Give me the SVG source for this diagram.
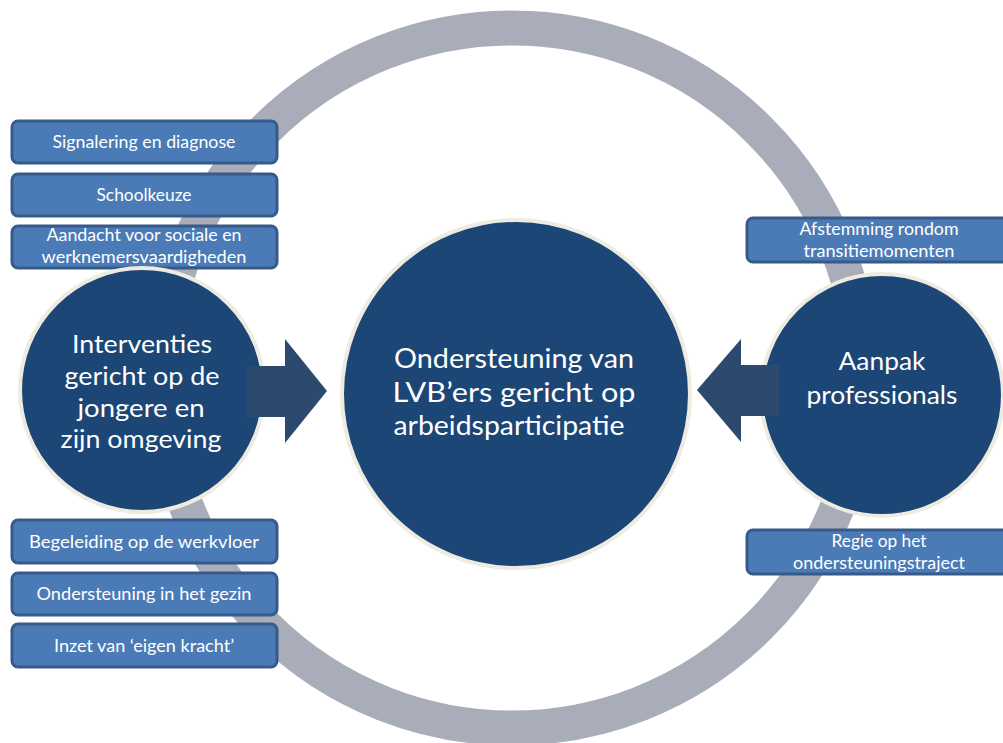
<svg xmlns="http://www.w3.org/2000/svg" width="1003" height="743" viewBox="0 0 1003 743">
<style>
.ring{fill:none;stroke:#A8ADB9;stroke-width:35}
.circ{fill:#1C4676;stroke:#EEECE1;stroke-width:4}
.box{fill:#4A7BB7;stroke:#365B8A;stroke-width:3}
.arrow{fill:#2C4A6E}
.bt{font-family:Lato,"Open Sans","Liberation Sans",sans-serif;font-size:17px;fill:#FFFFFF;text-anchor:middle}
.ct{font-family:Lato,"Open Sans","Liberation Sans",sans-serif;font-size:25px;fill:#FFFFFF;text-anchor:middle}
.mt{font-family:Lato,"Open Sans","Liberation Sans",sans-serif;font-size:27px;fill:#FFFFFF;text-anchor:middle}
</style>
<rect width="1003" height="743" fill="#FFFFFF"/>
<g id="cycle">
<circle class="ring" cx="512" cy="378" r="350"/>
</g>
<g id="box-signalering">
<rect class="box" x="12" y="121" width="265" height="42" rx="6"/>
<text class="bt" x="144" y="148" textLength="183" lengthAdjust="spacingAndGlyphs">Signalering en diagnose</text>
</g>
<g id="box-schoolkeuze">
<rect class="box" x="12" y="174" width="265" height="42" rx="6"/>
<text class="bt" x="144" y="201" textLength="95" lengthAdjust="spacingAndGlyphs">Schoolkeuze</text>
</g>
<g id="box-aandacht">
<rect class="box" x="12" y="226" width="265" height="42" rx="6"/>
<text class="bt" x="144" y="241" textLength="195" lengthAdjust="spacingAndGlyphs">Aandacht voor sociale en</text>
<text class="bt" x="144" y="263" textLength="205" lengthAdjust="spacingAndGlyphs">werknemersvaardigheden</text>
</g>
<g id="box-begeleiding">
<rect class="box" x="12" y="520" width="265" height="43" rx="6"/>
<text class="bt" x="144" y="548" textLength="230" lengthAdjust="spacingAndGlyphs">Begeleiding op de werkvloer</text>
</g>
<g id="box-gezin">
<rect class="box" x="12" y="573" width="265" height="42" rx="6"/>
<text class="bt" x="144" y="600" textLength="215" lengthAdjust="spacingAndGlyphs">Ondersteuning in het gezin</text>
</g>
<g id="box-inzet">
<rect class="box" x="12" y="624" width="265" height="43" rx="6"/>
<text class="bt" x="144" y="652" textLength="180" lengthAdjust="spacingAndGlyphs">Inzet van ‘eigen kracht’</text>
</g>
<g id="box-afstemming">
<rect class="box" x="747" y="218" width="270" height="44" rx="6"/>
<text class="bt" x="879" y="235" textLength="159" lengthAdjust="spacingAndGlyphs">Afstemming rondom</text>
<text class="bt" x="879" y="257" textLength="151" lengthAdjust="spacingAndGlyphs">transitiemomenten</text>
</g>
<g id="box-regie">
<rect class="box" x="747" y="530" width="270" height="44" rx="6"/>
<text class="bt" x="879" y="547" textLength="95" lengthAdjust="spacingAndGlyphs">Regie op het</text>
<text class="bt" x="879" y="569" textLength="172" lengthAdjust="spacingAndGlyphs">ondersteuningstraject</text>
</g>
<g id="node-interventies">
<circle class="circ" cx="142" cy="390" r="122"/>
<text class="ct" x="142" y="353" textLength="140" lengthAdjust="spacingAndGlyphs">Interventies</text>
<text class="ct" x="142" y="385" textLength="155" lengthAdjust="spacingAndGlyphs">gericht op de</text>
<text class="ct" x="141" y="417" textLength="127" lengthAdjust="spacingAndGlyphs">jongere en</text>
<text class="ct" x="141" y="448" textLength="161" lengthAdjust="spacingAndGlyphs">zijn omgeving</text>
</g>
<g id="node-ondersteuning">
<circle class="circ" cx="516" cy="394" r="174"/>
<text class="mt" x="514" y="368" textLength="240" lengthAdjust="spacingAndGlyphs">Ondersteuning van</text>
<text class="mt" x="514" y="402" textLength="243" lengthAdjust="spacingAndGlyphs">LVB’ers gericht op</text>
<text class="mt" x="509" y="435" textLength="231" lengthAdjust="spacingAndGlyphs">arbeidsparticipatie</text>
</g>
<g id="node-aanpak">
<circle class="circ" cx="882" cy="395" r="121"/>
<text class="ct" x="882" y="370" textLength="87" lengthAdjust="spacingAndGlyphs">Aanpak</text>
<text class="ct" x="882" y="404" textLength="151" lengthAdjust="spacingAndGlyphs">professionals</text>
</g>
<g id="connectors">
<polygon class="arrow" points="247,366 285,366 285,339 327,391 285,443 285,417 247,417"/>
<polygon class="arrow" points="779,365 741,365 741,339 697,390 741,442 741,416 779,416"/>
</g>
</svg>
